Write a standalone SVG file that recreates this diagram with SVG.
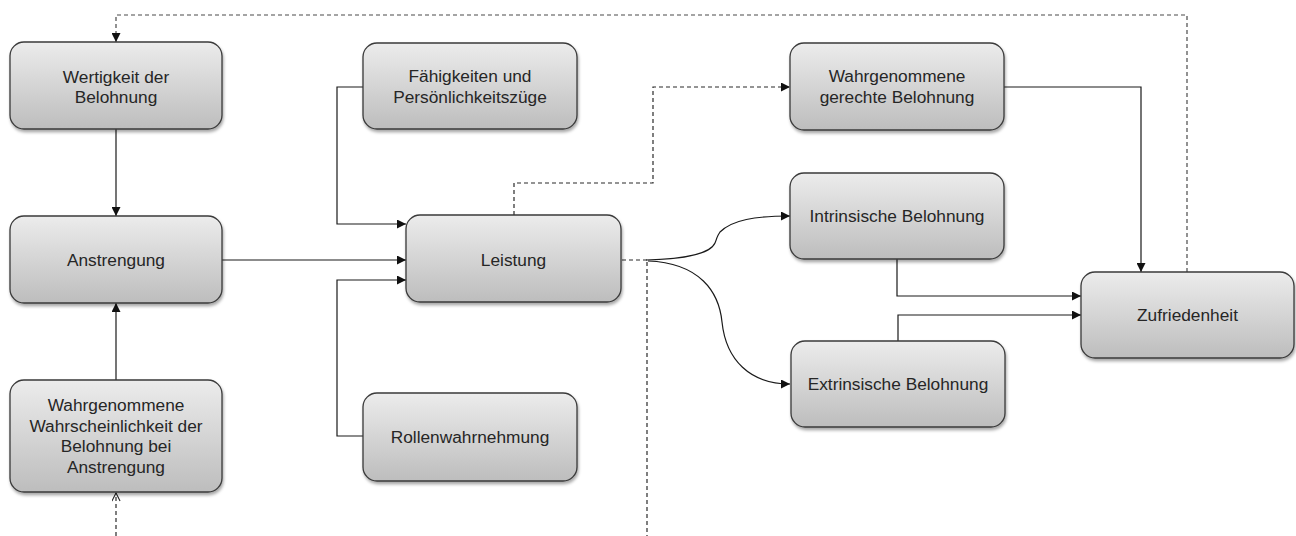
<svg xmlns="http://www.w3.org/2000/svg" width="1296" height="536" viewBox="0 0 1296 536">
  <defs>
    <linearGradient id="boxFill" x1="0" y1="0" x2="0" y2="1">
      <stop offset="0" stop-color="#ececec"/>
      <stop offset="1" stop-color="#bdbdbd"/>
    </linearGradient>
    <filter id="shadow" x="-10%" y="-10%" width="125%" height="135%">
      <feDropShadow dx="1" dy="2.5" stdDeviation="1.6" flood-color="#000" flood-opacity="0.35"/>
    </filter>
    <marker id="arrow" viewBox="0 0 10 10" refX="10" refY="5" markerWidth="10" markerHeight="9" markerUnits="userSpaceOnUse" orient="auto">
      <path d="M0,0 L10,5 L0,10 z" fill="#111"/>
    </marker>
    <marker id="arrowOpen" viewBox="0 0 10 10" refX="9" refY="5" markerWidth="10" markerHeight="9" markerUnits="userSpaceOnUse" orient="auto">
      <path d="M0,0.5 L9,5 L0,9.5" fill="none" stroke="#222" stroke-width="1.2"/>
    </marker>
  </defs>
  <style>
    .box { fill: url(#boxFill); stroke: #3a3a3a; stroke-width: 1.3; filter: url(#shadow); }
    .lbl { font-family: "Liberation Sans", Arial, sans-serif; font-size: 17.3px; fill: #262626; text-anchor: middle; }
    .solid { fill: none; stroke: #1a1a1a; stroke-width: 1.2; }
    .dash { fill: none; stroke: #2a2a2a; stroke-width: 1.2; stroke-dasharray: 4 3; }
    .dashLight { fill: none; stroke: #4a4a4a; stroke-width: 1.2; stroke-dasharray: 4 3; }
  </style>

  <rect width="1296" height="536" fill="#ffffff"/>

  <!-- connectors -->
  <g id="connectors">
    <!-- feedback loop from satisfaction back to reward valence -->
    <path class="dashLight" d="M1187,272 V15 H116 V42" marker-end="url(#arrow)"/>
    <!-- valence to effort -->
    <path class="solid" d="M116,129 V216" marker-end="url(#arrow)"/>
    <!-- perceived probability to effort -->
    <path class="solid" d="M116,380 V303" marker-end="url(#arrow)"/>
    <!-- incoming dashed link from below -->
    <path class="dash" d="M116,536 V493" marker-end="url(#arrowOpen)"/>
    <!-- effort to performance -->
    <path class="solid" d="M222,260 H406" marker-end="url(#arrow)"/>
    <!-- abilities to performance -->
    <path class="solid" d="M363,87 H337 V224 H406" marker-end="url(#arrow)"/>
    <!-- role perception to performance -->
    <path class="solid" d="M363,436 H337 V280 H406" marker-end="url(#arrow)"/>
    <!-- performance to perceived fair reward -->
    <path class="dash" d="M514,215 V183 H653 V87 H790" marker-end="url(#arrow)"/>
    <!-- performance outgoing stub and downward dashed line -->
    <path class="dash" d="M622,260 H647"/>
    <path class="dash" d="M647,262 V536"/>
    <!-- performance to intrinsic reward -->
    <path class="solid" d="M646,260 C690,259 711,252 715,243 C718,236 716,238 720,232 C732,220 755,216 790,216" marker-end="url(#arrow)"/>
    <!-- performance to extrinsic reward -->
    <path class="solid" d="M648,261 C700,263 719,292 722,322 C726,360 750,384 790,384" marker-end="url(#arrow)"/>
    <!-- perceived fair reward to satisfaction -->
    <path class="solid" d="M1004,87 H1141 V272" marker-end="url(#arrow)"/>
    <!-- intrinsic reward to satisfaction -->
    <path class="solid" d="M897,259 V296 H1081" marker-end="url(#arrow)"/>
    <!-- extrinsic reward to satisfaction -->
    <path class="solid" d="M898,341 V315 H1081" marker-end="url(#arrow)"/>
  </g>

  <g id="wertigkeit">
    <rect class="box" x="10" y="42" width="212" height="87" rx="14"/>
    <text class="lbl" x="116" y="83">Wertigkeit der</text>
    <text class="lbl" x="116" y="103">Belohnung</text>
  </g>

  <g id="anstrengung">
    <rect class="box" x="10" y="216" width="212" height="87" rx="14"/>
    <text class="lbl" x="116" y="266">Anstrengung</text>
  </g>

  <g id="wahrscheinlichkeit">
    <rect class="box" x="10" y="380" width="212" height="112" rx="14"/>
    <text class="lbl" x="116" y="411">Wahrgenommene</text>
    <text class="lbl" x="116" y="432">Wahrscheinlichkeit der</text>
    <text class="lbl" x="116" y="452">Belohnung bei</text>
    <text class="lbl" x="116" y="473">Anstrengung</text>
  </g>

  <g id="faehigkeiten">
    <rect class="box" x="363" y="43" width="214" height="86" rx="14"/>
    <text class="lbl" x="470" y="82">Fähigkeiten und</text>
    <text class="lbl" x="470" y="103">Persönlichkeitszüge</text>
  </g>

  <g id="leistung">
    <rect class="box" x="406" y="215" width="215" height="87" rx="14"/>
    <text class="lbl" x="513.5" y="266">Leistung</text>
  </g>

  <g id="rollenwahrnehmung">
    <rect class="box" x="363" y="393" width="214" height="88" rx="14"/>
    <text class="lbl" x="470" y="443">Rollenwahrnehmung</text>
  </g>

  <g id="gerechte-belohnung">
    <rect class="box" x="790" y="43" width="214" height="87" rx="14"/>
    <text class="lbl" x="897" y="82">Wahrgenommene</text>
    <text class="lbl" x="897" y="103">gerechte Belohnung</text>
  </g>

  <g id="intrinsische-belohnung">
    <rect class="box" x="790" y="173" width="214" height="86" rx="14"/>
    <text class="lbl" x="897" y="222">Intrinsische Belohnung</text>
  </g>

  <g id="extrinsische-belohnung">
    <rect class="box" x="791" y="341" width="214" height="86" rx="14"/>
    <text class="lbl" x="898" y="390">Extrinsische Belohnung</text>
  </g>

  <g id="zufriedenheit">
    <rect class="box" x="1081" y="272" width="213" height="86" rx="14"/>
    <text class="lbl" x="1187.5" y="321">Zufriedenheit</text>
  </g>
</svg>
